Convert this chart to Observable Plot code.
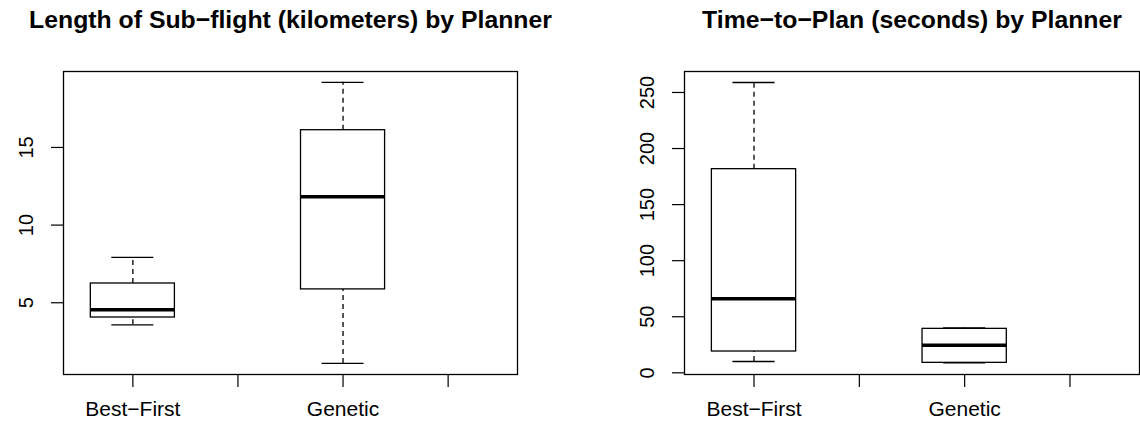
<!DOCTYPE html>
<html><head><meta charset="utf-8">
<script src="https://cdn.jsdelivr.net/npm/d3@7"></script>
<script src="https://cdn.jsdelivr.net/npm/@observablehq/plot@0.6"></script>
<style>body{margin:0;background:#fff;} #row{display:flex;width:1140px;height:426px;}</style>
</head><body><div id="row"></div>
<script>
// Data
const planners = ["Best−First", "Genetic"];
const positions = [1, 3];
const xTicks = [1, 2, 3, 4];
const xTickLabels = ["Best−First", "", "Genetic", ""];

const lengthLow = [3.58, 1.09];
const lengthQ1 = [4.05, 5.86];
const lengthMedian = [4.55, 11.83];
const lengthQ3 = [6.24, 16.11];
const lengthHigh = [7.92, 19.19];
const lengthTicks = [5, 10, 15];

const timeLow = [10.1, 8.8];
const timeQ1 = [19.0, 8.9];
const timeMedian = [66.0, 24.6];
const timeQ3 = [181.6, 39.2];
const timeHigh = [258.9, 40.0];
const timeTicks = [0, 50, 100, 150, 200, 250];

function rowsOf(low, q1, med, q3, high) {
  return planners.map((p, i) => ({planner: p, pos: positions[i], low: low[i], q1: q1[i], median: med[i], q3: q3[i], high: high[i]}));
}

function panel({title, rows, yTicks, yDomain, marginLeft, marginRight}) {
  const half = 0.4, capHalf = 0.2;
  return Plot.plot({
    width: 570, height: 426, marginLeft, marginRight, marginTop: 71, marginBottom: 52,
    style: {fontFamily: '"Liberation Sans", Arial, Helvetica, sans-serif', fontSize: "20px", color: "#000", background: "#fff", overflow: "visible"},
    x: {domain: [0.34, 4.66]},
    y: {domain: yDomain},
    marks: [
      Plot.frame({stroke: "#000", strokeWidth: 1.3}),
      Plot.axisX({ticks: xTicks, tickFormat: d => xTickLabels[xTicks.indexOf(d)], tickSize: 13, tickPadding: 14, fontSize: 21, label: null, strokeWidth: 1.2}),
      Plot.axisY({ticks: yTicks, tickSize: 12, tickRotate: -90, tickPadding: 18.5, label: null, strokeWidth: 1.2, tickFormat: d => String(d)}),
      Plot.ruleX(rows, {x: "pos", y1: "q3", y2: "high", strokeDasharray: "5,4", strokeWidth: 1.3}),
      Plot.ruleX(rows, {x: "pos", y1: "low", y2: "q1", strokeDasharray: "5,4", strokeWidth: 1.3}),
      Plot.ruleY(rows, {y: "high", x1: d => d.pos - capHalf, x2: d => d.pos + capHalf, strokeWidth: 1.3}),
      Plot.ruleY(rows, {y: "low", x1: d => d.pos - capHalf, x2: d => d.pos + capHalf, strokeWidth: 1.3}),
      Plot.rect(rows, {x1: d => d.pos - half, x2: d => d.pos + half, y1: "q1", y2: "q3", fill: "white", stroke: "black", strokeWidth: 1.3}),
      Plot.ruleY(rows, {y: "median", x1: d => d.pos - half, x2: d => d.pos + half, strokeWidth: 3.5}),
      Plot.text([title], {frameAnchor: "top", lineAnchor: "bottom", dy: -44, fontWeight: "bold", fontSize: 24.8})
    ]
  });
}

const row = document.getElementById("row");
row.appendChild(panel({
  title: "Length of Sub−flight (kilometers) by Planner",
  rows: rowsOf(lengthLow, lengthQ1, lengthMedian, lengthQ3, lengthHigh),
  yTicks: lengthTicks, yDomain: [0.38, 19.89], marginLeft: 63, marginRight: 53
}));
row.appendChild(panel({
  title: "Time−to−Plan (seconds) by Planner",
  rows: rowsOf(timeLow, timeQ1, timeMedian, timeQ3, timeHigh),
  yTicks: timeTicks, yDomain: [-1.5, 268.7], marginLeft: 114, marginRight: 1
}));
</script></body></html>
